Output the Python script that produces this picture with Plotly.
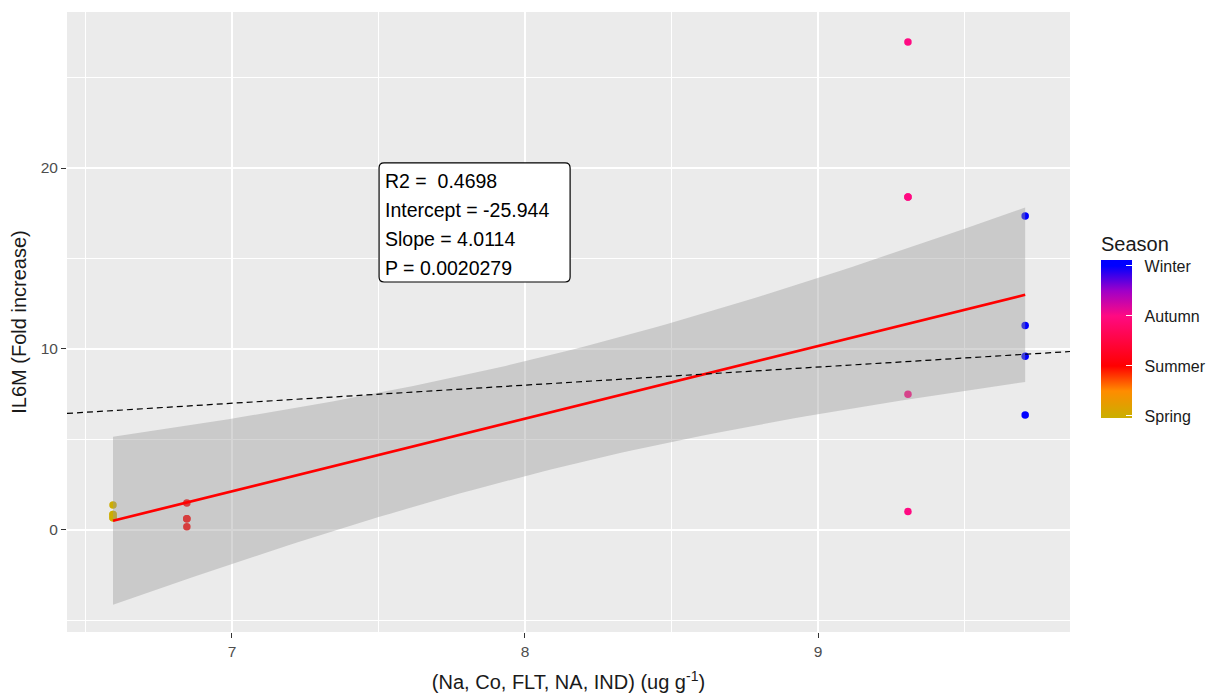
import numpy as np
import plotly.graph_objects as go

# ---- data (some points overlap exactly) ----
season_names = ["Spring", "Summer", "Autumn", "Winter"]
season_codes = [1, 2, 3, 4]

spring_x = [6.594, 6.594, 6.594, 6.594, 6.594]
spring_y = [1.38, 0.85, 0.85, 0.68, 0.68]
summer_x = [6.846, 6.846, 6.846, 6.846]
summer_y = [1.49, 0.62, 0.62, 0.17]
autumn_x = [9.307, 9.307, 9.307, 9.307, 9.307]
autumn_y = [26.96, 18.4, 18.4, 7.5, 1.02]
winter_x = [9.707, 9.707, 9.707, 9.707]
winter_y = [17.35, 11.3, 9.6, 6.35]

# fit statistics printed on the chart
r2 = 0.4698
intercept = -25.944
slope = 4.0114
p_value = 0.0020279
stats_lines = ["R2 =  0.4698", "Intercept = -25.944", "Slope = 4.0114", "P = 0.0020279"]

x_ticks = [7, 8, 9]
y_ticks = [0, 10, 20]
x_minor = [6.5, 7.5, 8.5, 9.5]
y_minor = [-5, 5, 15, 25]
x_range = [6.437, 9.860]
y_range = [-5.64, 28.62]

# ---- assemble ----
xs = np.array(spring_x + summer_x + autumn_x + winter_x)
ys = np.array(spring_y + summer_y + autumn_y + winter_y)
cs = np.array([1] * len(spring_x) + [2] * len(summer_x) + [3] * len(autumn_x) + [4] * len(winter_x))

n = len(xs)
xbar = xs.mean()
sxx = np.sum((xs - xbar) ** 2)
ssr = slope ** 2 * sxx
sse = ssr * (1 - r2) / r2
s = np.sqrt(sse / (n - 2))
tq = 2.1199  # t(0.975, df=16)
xg = np.linspace(xs.min(), xs.max(), 80)
yg = intercept + slope * xg
se = s * np.sqrt(1.0 / n + (xg - xbar) ** 2 / sxx)
lo = yg - tq * se
hi = yg + tq * se

# colour scale (value -> colour), bar slightly wider than 1..4 like ggplot
cmin, cmax = 0.96, 4.12
stops = [(1.0, "#CDAD00"), (1.5, "#FF8C00"), (2.0, "#FF0000"),
         (3.0, "#FF0A82"), (3.5, "#A000C8"), (4.0, "#0000FF")]
colorscale = [[0.0, stops[0][1]]] + [[(v - cmin) / (cmax - cmin), c] for v, c in stops] + [[1.0, stops[-1][1]]]

FONT = "Liberation Sans, Arial, sans-serif"
nb = "\u00a0\u00a0"

fig = go.Figure()

fig.add_trace(go.Scatter(
    x=xs, y=ys, mode="markers",
    marker=dict(size=7.5, color=cs, colorscale=colorscale, cmin=cmin, cmax=cmax,
                showscale=True,
                colorbar=dict(
                    title=dict(text="Season", side="top", font=dict(size=20, color="#1a1a1a", family=FONT)),
                    tickvals=season_codes, ticktext=[nb + t for t in season_names],
                    ticks="inside", ticklen=6, tickcolor="white", tickwidth=1.2,
                    tickfont=dict(size=16, color="#1a1a1a", family=FONT),
                    thickness=31, lenmode="pixels", len=185, ypad=0, xpad=0,
                    x=1.0309, xanchor="left", y=0.3452, yanchor="bottom",
                    outlinewidth=0, bgcolor="rgba(0,0,0,0)",
                )),
    hoverinfo="skip", showlegend=False,
))

# confidence band
fig.add_trace(go.Scatter(
    x=np.concatenate([xg, xg[::-1]]), y=np.concatenate([hi, lo[::-1]]),
    fill="toself", fillcolor="rgba(153,153,153,0.4)", line=dict(width=0),
    mode="lines", hoverinfo="skip", showlegend=False,
))

# fitted line
fig.add_trace(go.Scatter(
    x=xg, y=yg, mode="lines", line=dict(color="#FF0000", width=2.7),
    hoverinfo="skip", showlegend=False,
))

# identity dashed line
fig.add_trace(go.Scatter(
    x=x_range, y=x_range, mode="lines",
    line=dict(color="black", width=1.2, dash="6px,4px"),
    hoverinfo="skip", showlegend=False,
))

# ---- label box (rounded rectangle) with four text lines ----
px_x = (x_range[1] - x_range[0]) / 1003.0   # data units per pixel
px_y = (y_range[1] - y_range[0]) / 620.0
bx0, bx1 = 7.502, 8.154
by1, by0 = 20.28, 13.70
rx, ry = 5 * px_x, 5 * px_y
box_path = (
    f"M {bx0 + rx},{by1} L {bx1 - rx},{by1} Q {bx1},{by1} {bx1},{by1 - ry} "
    f"L {bx1},{by0 + ry} Q {bx1},{by0} {bx1 - rx},{by0} "
    f"L {bx0 + rx},{by0} Q {bx0},{by0} {bx0},{by0 + ry} "
    f"L {bx0},{by1 - ry} Q {bx0},{by1} {bx0 + rx},{by1} Z"
)
fig.add_shape(type="path", path=box_path, xref="x", yref="y",
              line=dict(color="black", width=1.2), fillcolor="white", layer="above")

line_step = 29 * px_y
first_line = by1 - 18 * px_y
for i, t in enumerate(stats_lines):
    fig.add_annotation(
        x=bx0 + 4 * px_x, y=first_line - i * line_step, xref="x", yref="y",
        xanchor="left", yanchor="middle", text=t, showarrow=False, align="left",
        font=dict(size=19.5, color="black", family=FONT),
    )

axis_font = dict(size=15.5, color="#4D4D4D", family=FONT)
fig.update_xaxes(
    range=x_range, tickvals=x_ticks, showgrid=True, gridcolor="white", gridwidth=1.8,
    zeroline=False, ticks="outside", ticklen=5, tickwidth=1.2, tickcolor="#333333", tickfont=axis_font,
    minor=dict(tickvals=x_minor, showgrid=True, gridcolor="white", gridwidth=0.9, ticks=""),
    title=dict(text="(Na, Co, FLT, NA, IND) (ug g<sup>-1</sup>)", font=dict(size=20, color="#1a1a1a", family=FONT), standoff=16),
    showline=False,
)
fig.update_yaxes(
    range=y_range, tickvals=y_ticks, showgrid=True, gridcolor="white", gridwidth=1.8,
    zeroline=False, ticks="outside", ticklen=5, tickwidth=1.2, tickcolor="#333333", tickfont=axis_font,
    minor=dict(tickvals=y_minor, showgrid=True, gridcolor="white", gridwidth=0.9, ticks=""),
    title=dict(text="IL6M (Fold increase)", font=dict(size=20, color="#1a1a1a", family=FONT), standoff=8),
    showline=False,
)

fig.update_layout(
    width=1211, height=696,
    margin=dict(l=67, r=141, t=12, b=64, autoexpand=False),
    plot_bgcolor="#EBEBEB", paper_bgcolor="white",
    showlegend=False,
)

fig.write_html("out.html")
